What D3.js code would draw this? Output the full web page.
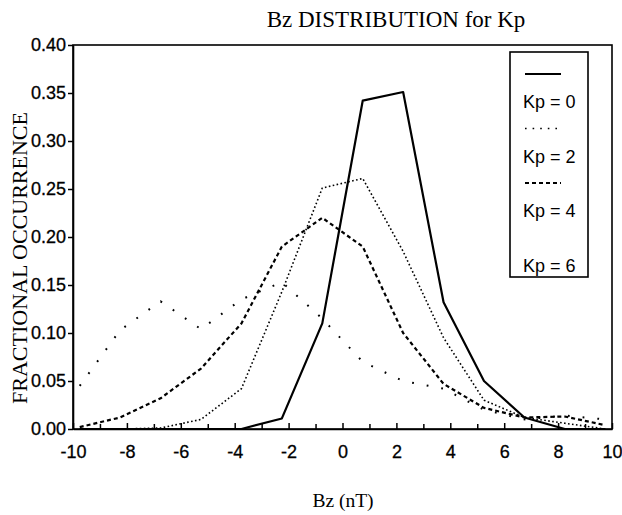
<!DOCTYPE html>
<html>
<head>
<meta charset="utf-8">
<script src="https://cdn.jsdelivr.net/npm/d3@7"></script>
<style>
  body { margin: 0; background: #fff; }
  .tick text { font-family: "Liberation Sans", Arial, sans-serif; font-size: 18px; fill: #000; stroke: #000; stroke-width: 0.3; }
</style>
</head>
<body>
<div id="chart"></div>
<script>
// bin centres (nT) and fractional occurrence per Kp level
var bz  = [-9.75, -8.25, -6.75, -5.25, -3.75, -2.25, -0.75, 0.75, 2.25, 3.75, 5.25, 6.75, 8.25, 9.75];
var kp0 = [0, 0, 0, 0, 0, 0.011, 0.11, 0.342, 0.351, 0.132, 0.05, 0.012, 0, 0];
var kp2 = [0, 0, 0.001, 0.01, 0.042, 0.143, 0.251, 0.261, 0.185, 0.095, 0.03, 0.012, 0.006, 0];
var kp4 = [0.002, 0.012, 0.032, 0.063, 0.11, 0.19, 0.22, 0.19, 0.10, 0.047, 0.022, 0.012, 0.013, 0.004];
var kp6 = [0.045, 0.103, 0.133, 0.104, 0.135, 0.153, 0.115, 0.07, 0.05, 0.042, 0.02, 0.01, 0.014, 0.01];

var seriesNames = ["Kp = 0", "Kp = 2", "Kp = 4", "Kp = 6"];
var xMajor = [-10, -8, -6, -4, -2, 0, 2, 4, 6, 8, 10];
var xMinor = [-9, -7, -5, -3, -1, 1, 3, 5, 7, 9];
var yTicks = [0, 0.05, 0.10, 0.15, 0.20, 0.25, 0.30, 0.35, 0.40];

var margin = {top: 45, right: 10, bottom: 86, left: 73},
    w = 622 - margin.left - margin.right,
    h = 515 - margin.top - margin.bottom;

var x = d3.scaleLinear().domain([-10, 10]).range([0, w]);
var y = d3.scaleLinear().domain([0, 0.4]).range([h, 0]);

var svg = d3.select("#chart").append("svg")
    .attr("width", w + margin.left + margin.right)
    .attr("height", h + margin.top + margin.bottom);

var g = svg.append("g")
    .attr("transform", "translate(" + margin.left + "," + margin.top + ")");

// line styles: solid, fine dots, short dashes, sparse dots
var styles = [
  {dash: null, width: 2.2},
  {dash: "1.6,2.4", width: 1.6},
  {dash: "4,3", width: 2.2},
  {dash: "1.8,13", width: 2}
];

var series = [kp0, kp2, kp4, kp6];

var line = d3.line()
    .x(function(d) { return x(d[0]); })
    .y(function(d) { return y(d[1]); });

series.forEach(function(vals, i) {
  g.append("path")
    .datum(bz.map(function(b, j) { return [b, vals[j]]; }))
    .attr("fill", "none")
    .attr("stroke", "#000")
    .attr("stroke-width", styles[i].width)
    .attr("stroke-dasharray", styles[i].dash)
    .attr("stroke-linejoin", "round")
    .attr("d", line);
});

// frame
g.append("rect")
    .attr("x", 0).attr("y", 0)
    .attr("width", w).attr("height", h)
    .attr("fill", "none")
    .attr("stroke", "#000")
    .attr("stroke-width", 1.6);

// x axis, ticks pointing inward
var xAxis = g.append("g")
    .attr("transform", "translate(0," + h + ")")
    .call(d3.axisBottom(x).tickValues(xMajor).tickFormat(function(d) { return String(d); })
          .tickSizeInner(-6).tickSizeOuter(0).tickPadding(16));
xAxis.selectAll(".tick line").attr("stroke-width", 1.5);
xAxis.select(".domain").attr("stroke-width", 1.6);

g.append("g")
    .attr("transform", "translate(0," + h + ")")
    .call(d3.axisBottom(x).tickValues(xMinor).tickFormat("")
          .tickSizeInner(-5).tickSizeOuter(0))
    .call(function(a) { a.select(".domain").remove(); })
    .selectAll(".tick line").attr("stroke-width", 1.5);

// y axis, ticks pointing outward
var yAxis = g.append("g")
    .call(d3.axisLeft(y).tickValues(yTicks).tickFormat(d3.format(".2f"))
          .tickSize(5).tickSizeOuter(0).tickPadding(2));
yAxis.selectAll(".tick line").attr("stroke-width", 1.5);
yAxis.select(".domain").attr("stroke-width", 1.6);

// title and axis labels
svg.append("text")
    .attr("x", 396).attr("y", 27)
    .attr("text-anchor", "middle")
    .attr("font-family", "Liberation Serif, Times New Roman, serif")
    .attr("font-size", "23px")
    .text("Bz DISTRIBUTION for Kp");

svg.append("text")
    .attr("x", 343).attr("y", 507)
    .attr("text-anchor", "middle")
    .attr("font-family", "Liberation Serif, Times New Roman, serif")
    .attr("font-size", "19.5px")
    .text("Bz (nT)");

svg.append("text")
    .attr("transform", "translate(27,258) rotate(-90)")
    .attr("text-anchor", "middle")
    .attr("font-family", "Liberation Serif, Times New Roman, serif")
    .attr("font-size", "22px")
    .text("FRACTIONAL OCCURRENCE");

// legend
var legend = svg.append("g");
legend.append("rect")
    .attr("x", 510).attr("y", 52)
    .attr("width", 78).attr("height", 225)
    .attr("fill", "#fff")
    .attr("stroke", "#000")
    .attr("stroke-width", 1.6);

seriesNames.forEach(function(name, i) {
  var ly = 74 + i * 54.5;
  if (i < 3) {
    legend.append("line")
      .attr("x1", 525).attr("x2", 561)
      .attr("y1", ly).attr("y2", ly)
      .attr("stroke", "#000")
      .attr("stroke-width", styles[i].width)
      .attr("stroke-dasharray", i == 1 ? "1.6,6" : styles[i].dash);
  }
  legend.append("text")
    .attr("x", 523).attr("y", ly + 34)
    .attr("font-family", "Liberation Sans, Arial, sans-serif")
    .attr("font-size", "18px")
    .text(name);
});
</script>
</body>
</html>
